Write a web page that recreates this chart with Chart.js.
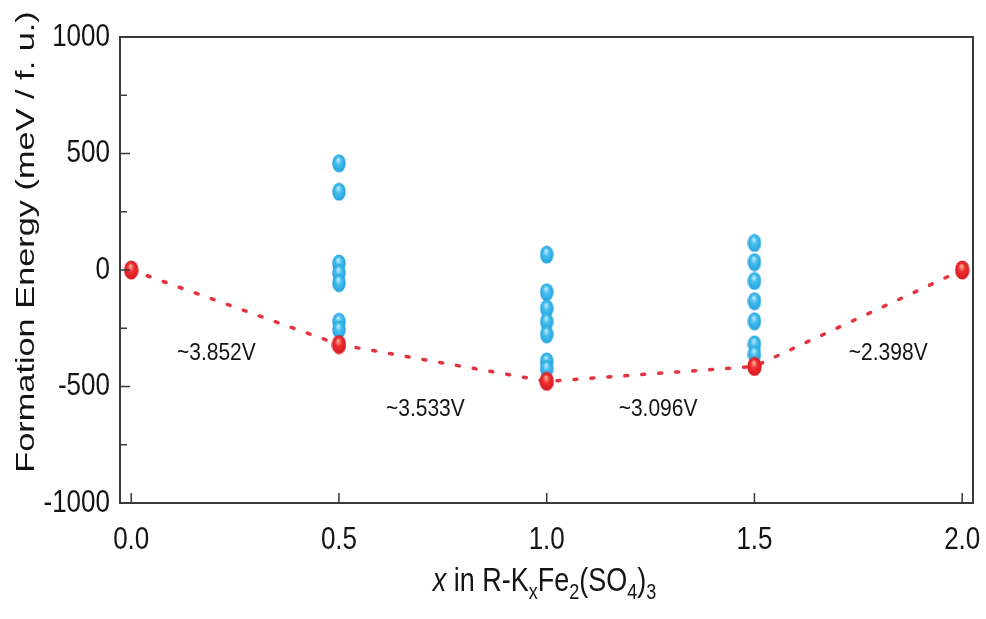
<!DOCTYPE html>
<html>
<head>
<meta charset="utf-8">
<script src="https://cdn.jsdelivr.net/npm/chart.js@4/dist/chart.umd.min.js"></script>
<style>
html,body{margin:0;padding:0;background:#fff;}
#wrap{width:986px;height:619px;}
</style>
</head>
<body>
<div id="wrap"><canvas id="c" width="986" height="619"></canvas></div>
<script>
// ---- data ----
const stableX = [0, 0.5, 1.0, 1.5, 2.0];
const stableE = [0, -320, -478, -414, 0];

const configX05 = [0.5, 0.5, 0.5, 0.5, 0.5, 0.5, 0.5];
const configE05 = [458, 336, 28, -13, -56, -222, -256];
const configX10 = [1.0, 1.0, 1.0, 1.0, 1.0, 1.0, 1.0];
const configE10 = [66, -95, -165, -222, -276, -392, -424];
const configX15 = [1.5, 1.5, 1.5, 1.5, 1.5, 1.5, 1.5];
const configE15 = [116, 34, -47, -134, -220, -319, -362];

const voltageLabels = ['~3.852V', '~3.533V', '~3.096V', '~2.398V'];
const voltageAtX = [0.205, 0.708, 1.268, 1.822];
const voltageAtE = [-358, -599, -599, -358];

const xTicks = [0, 0.5, 1.0, 1.5, 2.0];
const xTickLabels = ['0.0', '0.5', '1.0', '1.5', '2.0'];
const yTicks = [-1000, -500, 0, 500, 1000];
const yTickLabels = ['-1000', '-500', '0', '500', '1000'];
const yMinorTicks = [-750, -250, 250, 750];

const yTitle = 'Formation Energy (meV / f. u.)';
// x-axis title pieces: [text, style] where style is 'i' italic, 's' subscript, '' normal
const xTitleParts = [['x', 'i'], [' in R-K', ''], ['x', 's'], ['Fe', ''], ['2', 's'], ['(SO', ''], ['4', 's'], [')', ''], ['3', 's']];

const FONT = '"Liberation Sans", Arial, sans-serif';
const INK = '#141414';

// ---- sphere point images ----
function sphere(w, h, dark, mid, light) {
  const c = document.createElement('canvas');
  c.width = w; c.height = h;
  const g = c.getContext('2d');
  g.save();
  g.translate(w / 2, h / 2);
  g.scale(1, h / w);
  const r = w / 2;
  const grad = g.createRadialGradient(-r * 0.1, -r * 0.4, r * 0.05, 0, 0, r);
  grad.addColorStop(0, light);
  grad.addColorStop(0.4, mid);
  grad.addColorStop(1, dark);
  g.fillStyle = grad;
  g.beginPath();
  g.arc(0, 0, r - 0.3, 0, Math.PI * 2);
  g.fill();
  g.restore();
  return c;
}
const bluePt = sphere(14, 19, 'rgb(35,160,222)', 'rgb(68,190,238)', 'rgb(190,236,255)');
const redPt = sphere(15, 20, 'rgb(212,22,32)', 'rgb(238,48,52)', 'rgb(255,180,150)');

function pts(xs, ys) { return xs.map((x, i) => ({ x: x, y: ys[i] })); }

// draw text stretched vertically by k around (x, y)
function stretchedText(ctx, text, x, y, k, align, baseline) {
  ctx.save();
  ctx.translate(x, y);
  ctx.scale(1, k);
  ctx.textAlign = align;
  ctx.textBaseline = baseline;
  ctx.fillText(text, 0, 0);
  ctx.restore();
}

// ---- plugin: frame, inward ticks, tick labels, voltage labels, axis titles ----
const decor = {
  id: 'decor',
  afterDraw(chart) {
    const ctx = chart.ctx;
    const a = chart.chartArea;
    const xs = chart.scales.x, ys = chart.scales.y;
    ctx.save();
    ctx.strokeStyle = '#3a3a3a';
    ctx.lineWidth = 2;
    ctx.strokeRect(a.left, a.top, a.right - a.left, a.bottom - a.top);
    ctx.lineWidth = 1.5;
    ctx.beginPath();
    yTicks.forEach(v => {
      const p = ys.getPixelForValue(v);
      ctx.moveTo(a.left, p); ctx.lineTo(a.left + 10, p);
    });
    yMinorTicks.forEach(v => {
      const p = ys.getPixelForValue(v);
      ctx.moveTo(a.left, p); ctx.lineTo(a.left + 7, p);
    });
    xTicks.forEach(v => {
      const p = xs.getPixelForValue(v);
      ctx.moveTo(p, a.bottom); ctx.lineTo(p, a.bottom - 10);
    });
    ctx.stroke();

    ctx.fillStyle = INK;
    // tick labels
    ctx.font = '26px ' + FONT;
    yTicks.forEach((v, i) => {
      stretchedText(ctx, yTickLabels[i], a.left - 10, ys.getPixelForValue(v), 1.2, 'right', 'middle');
    });
    xTicks.forEach((v, i) => {
      stretchedText(ctx, xTickLabels[i], xs.getPixelForValue(v), a.bottom + 37, 1.2, 'center', 'middle');
    });

    // voltage labels
    ctx.font = '21px ' + FONT;
    voltageLabels.forEach((t, i) => {
      stretchedText(ctx, t, xs.getPixelForValue(voltageAtX[i]), ys.getPixelForValue(voltageAtE[i]), 1.15, 'center', 'middle');
    });

    // y title (rotated)
    ctx.save();
    ctx.translate(34, (a.top + a.bottom) / 2 - 28);
    ctx.rotate(-Math.PI / 2);
    ctx.scale(1.32, 1);
    ctx.font = '26px ' + FONT;
    ctx.textAlign = 'center';
    ctx.textBaseline = 'alphabetic';
    ctx.fillText(yTitle, 0, 0);
    ctx.restore();

    // x title with italic and subscripts
    ctx.save();
    const mainF = '27px ' + FONT, italF = 'italic 27px ' + FONT, subF = '18px ' + FONT;
    ctx.textAlign = 'left';
    ctx.textBaseline = 'alphabetic';
    const fontOf = s => s === 'i' ? italF : (s === 's' ? subF : mainF);
    let total = 0;
    xTitleParts.forEach(([t, s]) => { ctx.font = fontOf(s); total += ctx.measureText(t).width; });
    ctx.translate((a.left + a.right) / 2 - 2, 591);
    ctx.scale(1, 1.2);
    let x = -total / 2;
    xTitleParts.forEach(([t, s]) => {
      ctx.font = fontOf(s);
      ctx.fillText(t, x, s === 's' ? 7 : 0);
      x += ctx.measureText(t).width;
    });
    ctx.restore();

    ctx.restore();
  }
};

new Chart(document.getElementById('c'), {
  type: 'scatter',
  data: {
    datasets: [
      {
        label: 'Stable',
        data: pts(stableX, stableE),
        showLine: true,
        borderColor: 'rgb(226,52,64)',
        borderWidth: 3.5,
        borderDash: [3, 14],
        borderCapStyle: 'round',
        pointStyle: redPt,
        pointRadius: 9,
        pointHoverRadius: 9
      },
      {
        label: 'x=0.5',
        data: pts(configX05, configE05),
        pointStyle: bluePt,
        pointRadius: 8
      },
      {
        label: 'x=1.0',
        data: pts(configX10, configE10),
        pointStyle: bluePt,
        pointRadius: 8
      },
      {
        label: 'x=1.5',
        data: pts(configX15, configE15),
        pointStyle: bluePt,
        pointRadius: 8
      }
    ]
  },
  options: {
    responsive: false,
    animation: false,
    events: [],
    layout: { padding: { top: 37, right: 13, left: 0, bottom: 0 } },
    plugins: { legend: { display: false }, tooltip: { enabled: false } },
    scales: {
      x: {
        type: 'linear',
        min: -0.027,
        max: 2.026,
        grid: { display: false, drawTicks: false },
        border: { display: false },
        afterFit(s) { s.height = 116; },
        ticks: { display: false },
        title: { display: false }
      },
      y: {
        min: -1000,
        max: 1000,
        grid: { display: false, drawTicks: false },
        border: { display: false },
        afterFit(s) { s.width = 120; },
        ticks: { display: false },
        title: { display: false }
      }
    }
  },
  plugins: [decor]
});
</script>
</body>
</html>
